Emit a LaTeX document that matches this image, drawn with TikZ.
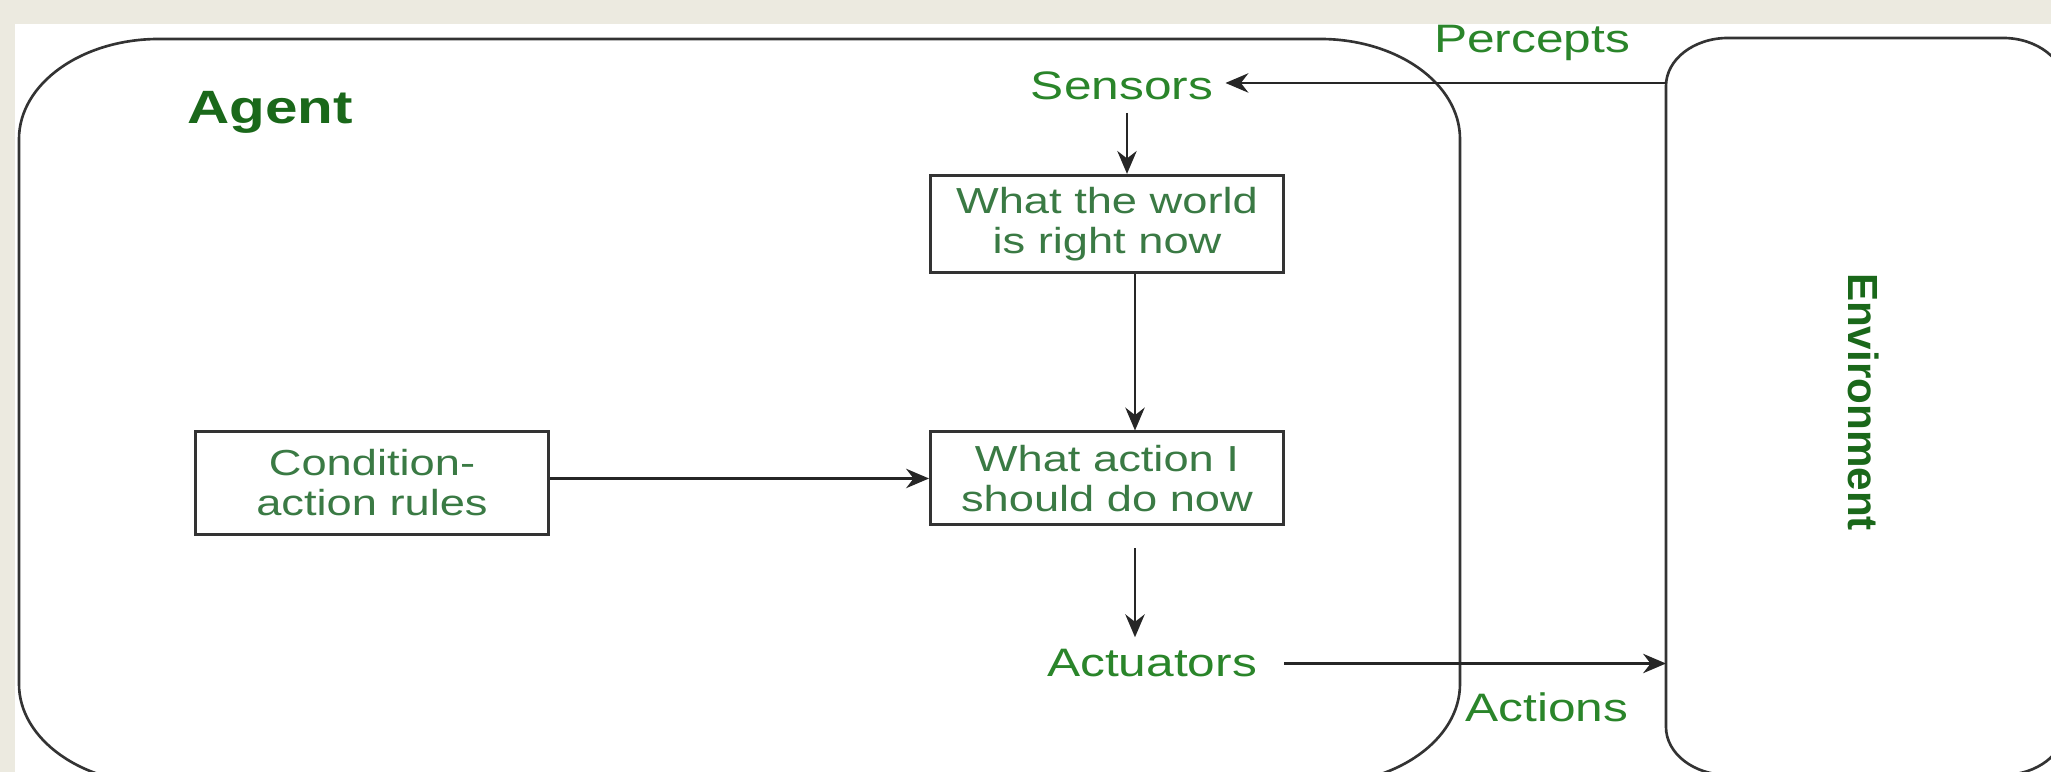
\documentclass[tikz,border=0pt]{standalone}
\usepackage{fontspec}
\setmainfont{Liberation Sans}[FakeStretch=1.25]
\newfontfamily\envfont{Liberation Sans}
\usepackage{tikz}
\definecolor{pagebeige}{HTML}{ECEAE0}
\definecolor{labelgreen}{HTML}{2A852A}
\definecolor{boxgreen}{HTML}{3A7A44}
\definecolor{titlegreen}{HTML}{1A681A}
\usetikzlibrary{arrows.meta}
\tikzstyle{frame} = [draw=black!80, line width=0.75pt]
\tikzstyle{tblock} = [rectangle, draw=black!80, line width=0.85pt, text=boxgreen, align=center,
minimum width=3.53cm, minimum height=0.93cm, font=\fontsize{10.3}{11.4}\selectfont]
\tikzstyle{label} = [text=labelgreen, anchor=base, font=\fontsize{11.3}{13.5}\selectfont]
\tikzstyle{arrow} = [line width=0.75pt, draw=black!85, ->, >={Stealth[length=6.5pt,width=5.5pt]}]

\begin{document}
\begin{tikzpicture}
    \useasboundingbox (0,0) rectangle (20.51,7.72);
    \fill[pagebeige] (0,0) rectangle (20.51,7.72);
    \fill[white] (0.15,0) rectangle (20.51,7.48);

    \draw[frame] (0.19,6.33) arc[start angle=180, end angle=90, x radius=1.4, y radius=1]
        -- (13.20,7.33) arc[start angle=90, end angle=0, x radius=1.4, y radius=1]
        -- (14.60,0.88) arc[start angle=0, end angle=-90, x radius=1.4, y radius=1]
        -- (1.59,-0.12) arc[start angle=270, end angle=180, x radius=1.4, y radius=1] -- cycle;
    \draw[frame] (16.66,6.86) arc[start angle=180, end angle=90, x radius=0.62, y radius=0.48]
        -- (20.03,7.34) arc[start angle=90, end angle=0, x radius=0.62, y radius=0.48]
        -- (20.65,0.45) arc[start angle=0, end angle=-90, x radius=0.62, y radius=0.48]
        -- (17.28,-0.03) arc[start angle=270, end angle=180, x radius=0.62, y radius=0.48] -- cycle;
    \coordinate (EnvIn) at (16.66,6.89);
    \coordinate (EnvOut) at (16.66,1.09);

    \node (Agent) [anchor=base, text=titlegreen, font=\fontsize{13.3}{15}\selectfont\bfseries] at (2.70,6.48) {Agent};
    \node (Environment) [rotate=-90, text=titlegreen, font=\envfont\fontsize{12}{14}\selectfont\bfseries] at (18.64,3.70) {Environment};
    \node (Percepts) [label] at (15.32,7.19) {Percepts};
    \node (Sensors) [label] at (11.22,6.72) {Sensors};
    \node (World) [tblock] at (11.07,5.48) {What the world\\is right now};
    \node (Decide) [tblock] at (11.07,2.935) {What action I\\should do now};
    \node (Rules) [tblock, minimum height=1.03cm] at (3.72,2.89) {Condition-\\action rules};
    \node (Actuators) [label] at (11.52,0.95) {Actuators};
    \node (Actions) [label] at (15.47,0.50) {Actions};

    \draw [arrow] (EnvIn) -- (EnvIn -| Sensors.east);
    \draw [arrow] ([xshift=0.5mm]Sensors.south) -- ([xshift=0.5mm]Sensors.south |- World.north);
    \draw [arrow] ([xshift=2.8mm]World.south) -- ([xshift=2.8mm]Decide.north);
    \draw [arrow] (Rules.east |- Decide) -- (Decide.west);
    \draw [arrow, shorten <=2.2mm] ([xshift=2.8mm]Decide.south) -- ([xshift=2.8mm]Decide.south |- Actuators.north);
    \draw [arrow, shorten <=1.5mm] (Actuators.east) -- (Actuators.east -| EnvOut);
\end{tikzpicture}
\end{document}
